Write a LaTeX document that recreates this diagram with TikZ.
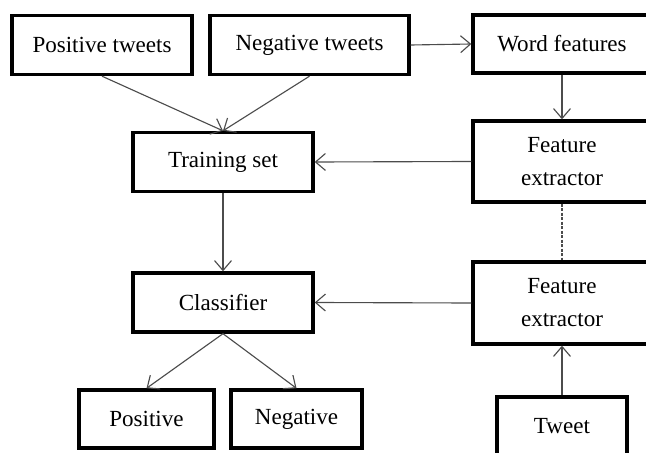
\documentclass[tikz,border=0pt]{standalone}
\usepackage{fontspec}
\setmainfont{Liberation Serif}
\usetikzlibrary{arrows.meta}
\begin{document}
\begin{tikzpicture}[x=0.025cm,y=-0.025cm,
    box/.style={draw,line width=2.4pt,inner sep=0pt,align=center,
        font=\fontsize{16.4}{23.5}\selectfont},
    arr/.style={draw=black!70,line width=0.8pt,-{Straight Barb[length=7pt,width=12pt]}}]
    \useasboundingbox (0,0) rectangle (646,453);
    \node[box,minimum width=4.5cm,minimum height=1.475cm] (ptweets) at (102,45) {Positive tweets};
    \node[box,minimum width=4.975cm,minimum height=1.475cm] (ntweets) at (309.5,45) {Negative tweets};
    \node[box,minimum width=4.45cm,minimum height=1.45cm] (words) at (562,44) {Word features};
    \node[box,minimum width=4.5cm,minimum height=1.475cm] (train) at (223,162) {Training set};
    \node[box,minimum width=4.45cm,minimum height=2.025cm] (fe1) at (562,161.5) {Feature\\extractor};
    \node[box,minimum width=4.5cm,minimum height=1.475cm] (classif) at (223,302.5) {Classifier};
    \node[box,minimum width=4.45cm,minimum height=2.05cm] (fe2) at (562,303) {Feature\\extractor};
    \node[box,minimum width=3.375cm,minimum height=1.45cm] (pos) at (146.5,419) {Positive};
    \node[box,minimum width=3.275cm,minimum height=1.45cm] (neg) at (296.5,419) {Negative};
    \node[box,minimum width=3.25cm,minimum height=1.45cm] (tweet) at (562,426) {Tweet};
    % connectors
    \draw[arr] (ptweets.south) -- (train.north);
    \draw[arr] (ntweets.south) -- (train.north);
    \draw[arr] (ntweets.east) -- (words.west);
    \draw[arr] (words.south) -- (fe1.north);
    \draw[arr] (fe1.west) -- (train.east);
    \draw[arr] (train.south) -- (classif.north);
    \draw[arr] (fe2.west) -- (classif.east);
    \draw[arr] (classif.south) -- (pos.north);
    \draw[arr] (classif.south) -- (neg.north);
    \draw[arr] (tweet.north) -- (fe2.south);
    \draw[black!70,line width=0.8pt,dash pattern=on 2pt off 1.2pt] (fe1.south) -- (fe2.north);
\end{tikzpicture}
\end{document}
